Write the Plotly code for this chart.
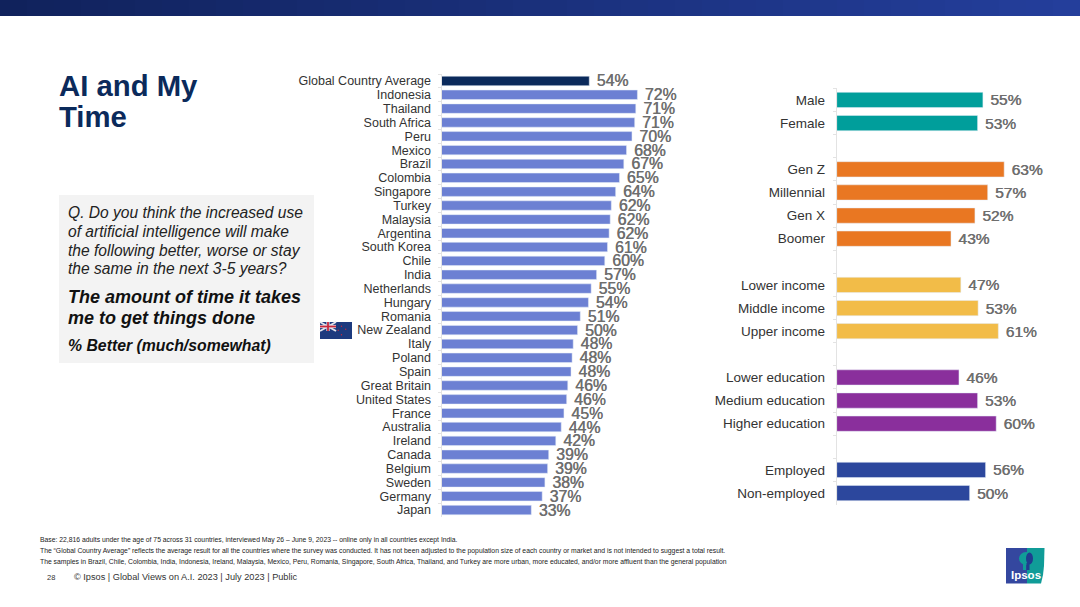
import plotly.graph_objects as go
from plotly.subplots import make_subplots

W, H = 1080, 607

# Left chart
countries = ["Global Country Average", "Indonesia", "Thailand", "South Africa", "Peru", "Mexico", "Brazil",
             "Colombia", "Singapore", "Turkey", "Malaysia", "Argentina", "South Korea", "Chile", "India",
             "Netherlands", "Hungary", "Romania", "New Zealand", "Italy", "Poland", "Spain", "Great Britain",
             "United States", "France", "Australia", "Ireland", "Canada", "Belgium", "Sweden", "Germany", "Japan"]
country_values = [54.3, 72.0, 71.4, 71.0, 70.0, 68.0, 67.0, 65.4, 64.0, 62.4, 62.0, 61.6, 61.0, 60.0, 57.0,
                  55.0, 54.0, 51.0, 50.0, 48.4, 48.0, 47.6, 46.4, 46.0, 45.0, 44.0, 42.0, 39.4, 39.0, 38.0, 37.0, 33.0]
country_labels = ["54%", "72%", "71%", "71%", "70%", "68%", "67%", "65%", "64%", "62%", "62%", "62%", "61%", "60%",
                  "57%", "55%", "54%", "51%", "50%", "48%", "48%", "48%", "46%", "46%", "45%", "44%", "42%", "39%",
                  "39%", "38%", "37%", "33%"]

# Right chart, blank names leave the gaps between the groups
groups = ["Male", "Female", " ", "Gen Z", "Millennial", "Gen X", "Boomer", "  ", "Lower income", "Middle income",
          "Upper income", "   ", "Lower education", "Medium education", "Higher education", "    ",
          "Employed", "Non-employed"]
group_values = [55, 53, None, 63, 56.8, 52, 43, None, 46.7, 53.2, 60.8, None, 46, 53, 60, None, 56, 50]
group_labels = ["55%", "53%", "", "63%", "57%", "52%", "43%", "", "47%", "53%", "61%", "", "46%", "53%", "60%", "",
                "56%", "50%"]
group_colors = ["#009E9B", "#009E9B", "#fff", "#E97722", "#E97722", "#E97722", "#E97722", "#fff",
                "#F2BC48", "#F2BC48", "#F2BC48", "#fff", "#8A2F9C", "#8A2F9C", "#8A2F9C", "#fff",
                "#2C479D", "#2C479D"]

BAR_BLUE = "#6C80D3"
NAVY = "#0B2A5B"
LABEL_GREY = "#6E6E6E"
FONT = "Liberation Sans"
# a thin shadow gives the medium weight of the value labels
LABEL_SHADOW = "0.45px 0 0 #6E6E6E"


def px_x(v):
    return v / W


def px_y(v):
    return 1 - v / H


def rect(x0, y0, x1, y1, color):
    return dict(type="rect", xref="paper", yref="paper", x0=px_x(x0), x1=px_x(x1), y0=px_y(y0), y1=px_y(y1),
                fillcolor=color, line_width=0, layer="below")


def ellipse(x0, y0, x1, y1, color):
    return dict(type="circle", xref="paper", yref="paper", x0=px_x(x0), x1=px_x(x1), y0=px_y(y0), y1=px_y(y1),
                fillcolor=color, line_width=0, layer="above")


def stroke(x0, y0, x1, y1, color, width):
    return dict(type="line", xref="paper", yref="paper", x0=px_x(x0), x1=px_x(x1), y0=px_y(y0), y1=px_y(y1),
                line=dict(color=color, width=width), layer="above")


def polygon(points, color):
    path = "M " + " L ".join(f"{px_x(x):.5f},{px_y(y):.5f}" for x, y in points) + " Z"
    return dict(type="path", xref="paper", yref="paper", path=path, fillcolor=color, line_width=0, layer="below")


def note(x, y, text, size, color="#222", bold=False, anchor="left"):
    return dict(xref="paper", yref="paper", x=px_x(x), y=px_y(y), text=f"<b>{text}</b>" if bold else text,
                showarrow=False, xanchor=anchor, yanchor="middle", align="left", borderpad=0, borderwidth=0,
                font=dict(family=FONT, size=size, color=color))


fig = make_subplots(rows=1, cols=2)

fig.add_trace(go.Bar(y=countries, x=country_values, orientation="h", text=["\u00a0" + t for t in country_labels],
                     marker=dict(color=[NAVY] + [BAR_BLUE] * 31), width=0.68,
                     textposition="outside", cliponaxis=False, constraintext="none",
                     textfont=dict(family=FONT, size=15.8, color=LABEL_GREY, shadow=LABEL_SHADOW)), row=1, col=1)
fig.add_trace(go.Bar(y=groups, x=group_values, orientation="h", text=["\u00a0" + t for t in group_labels],
                     marker=dict(color=group_colors), width=0.66,
                     textposition="outside", cliponaxis=False, constraintext="none",
                     textfont=dict(family=FONT, size=15.5, color=LABEL_GREY, shadow=LABEL_SHADOW)), row=1, col=2)

# pixel boxes of the two plots
fig.update_xaxes(domain=[px_x(441.5), px_x(700)], range=[0, 95], visible=False, row=1, col=1)
fig.update_yaxes(domain=[px_y(517), px_y(74)], autorange="reversed", row=1, col=1)
fig.update_xaxes(domain=[px_x(836.7), px_x(1060)], range=[0, 84], visible=False, row=1, col=2)
fig.update_yaxes(domain=[px_y(504.6), px_y(88.4)], autorange="reversed", row=1, col=2)
fig.update_yaxes(type="category", showgrid=False, showline=True, linecolor="#E3E3E3", linewidth=1,
                 ticks="outside", tickson="boundaries", ticklen=3, tickcolor="#E3E3E3",
                 tickfont=dict(family=FONT, color="#333"), zeroline=False, dtick=1)
fig.update_yaxes(tickfont_size=12.5, ticklabelstandoff=7, row=1, col=1)
fig.update_yaxes(tickfont_size=13.5, ticklabelstandoff=8, row=1, col=2)

shapes = []
# header band, gets lighter to the right
band_steps = 40
for i in range(band_steps):
    t = i / (band_steps - 1)
    r = round(16 + t * (36 - 16))
    g = round(34 + t * (62 - 34))
    b = round(92 + t * (155 - 92))
    shapes.append(rect(W * i / band_steps, 0, W * (i + 1) / band_steps + 1, 16, f"rgb({r},{g},{b})"))

# question box
shapes.append(rect(59, 195, 314, 363, "#F3F3F3"))

# New Zealand flag
shapes += [
    rect(320, 322, 352, 339, "#1D3A7E"),
    stroke(320, 322, 336, 331, "#E4E6EE", 2),
    stroke(336, 322, 320, 331, "#E4E6EE", 2),
    stroke(320, 326.5, 336, 326.5, "#E4E6EE", 3.2),
    stroke(328, 322, 328, 331, "#E4E6EE", 3.2),
    stroke(320, 326.5, 336, 326.5, "#C8283C", 1.8),
    stroke(328, 322, 328, 331, "#C8283C", 1.8),
    ellipse(340.8, 325.5, 342.2, 326.9, "#C8283C"),
    ellipse(345, 328.5, 346.4, 329.9, "#C8283C"),
    ellipse(337.5, 329.5, 338.9, 330.9, "#C8283C"),
    ellipse(340.8, 334, 342.2, 335.4, "#C8283C"),
]

# Ipsos logo
shapes += [
    rect(1006, 548, 1027, 583.5, "#34479F"),
    polygon([(1027, 548), (1044.5, 548), (1044, 566), (1043, 575), (1041, 583.5), (1027, 583.5)], "#109C98"),
    ellipse(1019, 552, 1033, 565, "#109C98"),
    ellipse(1026, 552.5, 1033, 564.5, "#1F3D8F"),
    stroke(1024.5, 563, 1024.5, 570, "#109C98", 3),
    stroke(1028, 563, 1028, 570, "#1F3D8F", 3),
]

annotations = [
    note(59, 85.5, "AI and My", 29.3, NAVY, bold=True),
    note(59, 116.5, "Time", 29.3, NAVY, bold=True),
    note(68, 212.5, "<i>Q. Do you think the increased use</i>", 15.6),
    note(68, 231.5, "<i>of artificial intelligence will make</i>", 15.6),
    note(68, 250.5, "<i>the following better, worse or stay</i>", 15.6),
    note(68, 268.5, "<i>the same in the next 3-5 years?</i>", 15.6),
    note(68, 297, "<i>The amount of time it takes</i>", 18, "#111", bold=True),
    note(68, 318, "<i>me to get things done</i>", 18, "#111", bold=True),
    note(68, 345, "<i>% Better (much/somewhat)</i>", 15.8, "#111", bold=True),
    note(40, 540, "Base: 22,816 adults under the age of 75 across 31 countries, interviewed May 26 – June 9, 2023 -- "
                  "online only in all countries except India.", 6.8),
    note(40, 551, "The “Global Country Average” reflects the average result for all the countries where the survey "
                  "was conducted. It has not been adjusted to the population size of each country or market and is "
                  "not intended to suggest a total result.", 6.8),
    note(40, 562, "The samples in Brazil, Chile, Colombia, India, Indonesia, Ireland, Malaysia, Mexico, Peru, Romania, "
                  "Singapore, South Africa, Thailand, and Turkey are more urban, more educated, and/or more affluent "
                  "than the general population", 6.8),
    note(47, 577.5, "28", 7.5, "#333"),
    note(74, 577, "© Ipsos | Global Views on A.I. 2023 | July 2023 | Public", 9.2, "#333"),
    note(1025.5, 575, "Ipsos", 11.5, "#FFFFFF", bold=True, anchor="center"),
]

fig.update_layout(width=W, height=H, margin=dict(l=0, r=0, t=0, b=0), paper_bgcolor="white", plot_bgcolor="white",
                  showlegend=False, bargap=0.3, shapes=shapes, annotations=annotations, font_family=FONT)

fig.write_html("out.html", config={"displayModeBar": False}, post_script='document.body.style.margin="0";')
